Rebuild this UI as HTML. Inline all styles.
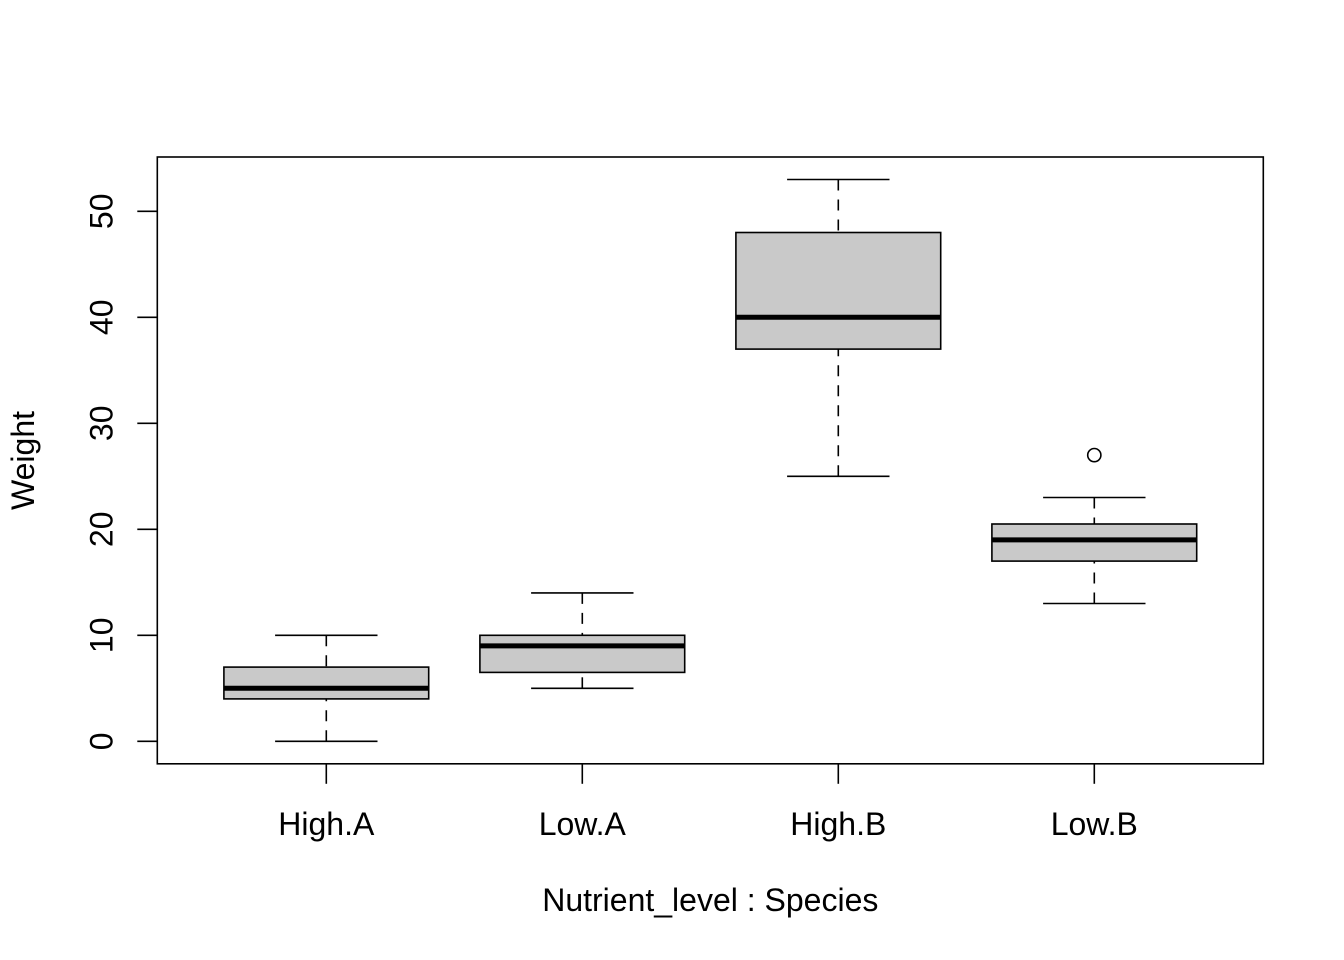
<!DOCTYPE html>
<html>
<head>
<meta charset="utf-8">
<style>
html,body{margin:0;padding:0;background:#fff;}
svg{display:block;}
text{font-family:"Liberation Sans",Arial,sans-serif;font-size:32px;fill:#000;}
</style>
</head>
<body>
<svg width="1344" height="960" viewBox="0 0 1344 960" xmlns="http://www.w3.org/2000/svg">
<rect x="0" y="0" width="1344" height="960" fill="#fff"/>

<!-- Boxes -->
<g stroke="#000" stroke-width="1.6" fill="#c9c9c9">
  <!-- High.A -->
  <rect x="223.9" y="667.1" width="204.8" height="31.8"/>
  <!-- Low.A -->
  <rect x="479.9" y="635.3" width="204.8" height="37.1"/>
  <!-- High.B -->
  <rect x="735.9" y="232.5" width="204.8" height="116.6"/>
  <!-- Low.B -->
  <rect x="991.9" y="524.0" width="204.8" height="37.1"/>
</g>

<!-- Medians -->
<g stroke="#000" stroke-width="5" fill="none">
  <line x1="223.9" y1="688.3" x2="428.7" y2="688.3"/>
  <line x1="479.9" y1="645.9" x2="684.7" y2="645.9"/>
  <line x1="735.9" y1="317.3" x2="940.7" y2="317.3"/>
  <line x1="991.9" y1="539.9" x2="1196.7" y2="539.9"/>
</g>

<!-- Whiskers (dashed), drawn from extreme toward box -->
<g stroke="#000" stroke-width="1.6" fill="none" stroke-dasharray="11 9">
  <line x1="326.3" y1="741.3" x2="326.3" y2="698.9"/>
  <line x1="326.3" y1="635.3" x2="326.3" y2="667.1"/>
  <line x1="582.3" y1="688.3" x2="582.3" y2="672.4"/>
  <line x1="582.3" y1="592.9" x2="582.3" y2="635.3"/>
  <line x1="838.3" y1="476.3" x2="838.3" y2="349.1"/>
  <line x1="838.3" y1="179.5" x2="838.3" y2="232.5"/>
  <line x1="1094.3" y1="603.5" x2="1094.3" y2="561.1"/>
  <line x1="1094.3" y1="497.5" x2="1094.3" y2="524.0"/>
</g>

<!-- Staples -->
<g stroke="#000" stroke-width="1.6" fill="none">
  <line x1="275.1" y1="741.3" x2="377.5" y2="741.3"/>
  <line x1="275.1" y1="635.3" x2="377.5" y2="635.3"/>
  <line x1="531.1" y1="688.3" x2="633.5" y2="688.3"/>
  <line x1="531.1" y1="592.9" x2="633.5" y2="592.9"/>
  <line x1="787.1" y1="476.3" x2="889.5" y2="476.3"/>
  <line x1="787.1" y1="179.5" x2="889.5" y2="179.5"/>
  <line x1="1043.1" y1="603.5" x2="1145.5" y2="603.5"/>
  <line x1="1043.1" y1="497.5" x2="1145.5" y2="497.5"/>
  <!-- outlier -->
  <circle cx="1094.3" cy="455.1" r="6.6"/>
</g>

<!-- Plot frame -->
<rect x="157.3" y="157.0" width="1106" height="606.8" fill="none" stroke="#000" stroke-width="1.6"/>

<!-- Y axis ticks -->
<g stroke="#000" stroke-width="1.6">
  <line x1="137.3" y1="741.3" x2="157.3" y2="741.3"/>
  <line x1="137.3" y1="635.3" x2="157.3" y2="635.3"/>
  <line x1="137.3" y1="529.3" x2="157.3" y2="529.3"/>
  <line x1="137.3" y1="423.3" x2="157.3" y2="423.3"/>
  <line x1="137.3" y1="317.3" x2="157.3" y2="317.3"/>
  <line x1="137.3" y1="211.3" x2="157.3" y2="211.3"/>
</g>
<!-- X axis ticks -->
<g stroke="#000" stroke-width="1.6">
  <line x1="326.3" y1="763.8" x2="326.3" y2="783.8"/>
  <line x1="582.3" y1="763.8" x2="582.3" y2="783.8"/>
  <line x1="838.3" y1="763.8" x2="838.3" y2="783.8"/>
  <line x1="1094.3" y1="763.8" x2="1094.3" y2="783.8"/>
</g>

<!-- Y tick labels -->
<g text-anchor="middle">
  <text transform="translate(112.5,741.3) rotate(-90)">0</text>
  <text transform="translate(112.5,635.3) rotate(-90)">10</text>
  <text transform="translate(112.5,529.3) rotate(-90)">20</text>
  <text transform="translate(112.5,423.3) rotate(-90)">30</text>
  <text transform="translate(112.5,317.3) rotate(-90)">40</text>
  <text transform="translate(112.5,211.3) rotate(-90)">50</text>
</g>

<!-- X tick labels -->
<g text-anchor="middle">
  <text x="326.3" y="835">High.A</text>
  <text x="582.3" y="835">Low.A</text>
  <text x="838.3" y="835">High.B</text>
  <text x="1094.3" y="835">Low.B</text>
</g>

<!-- Axis titles -->
<text x="710.3" y="911" text-anchor="middle">Nutrient_level : Species</text>
<text transform="translate(34,460.5) rotate(-90)" text-anchor="middle">Weight</text>
</svg>
</body>
</html>
